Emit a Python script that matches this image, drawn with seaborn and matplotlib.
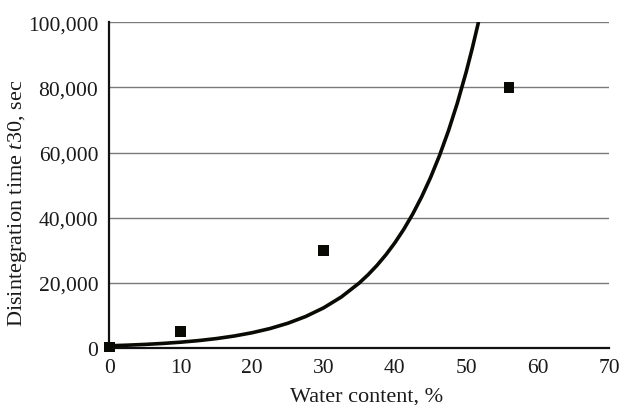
import numpy as np
import pandas as pd
import matplotlib.pyplot as plt
import seaborn as sns

# measured points
water = [0, 10, 30, 56]
t30 = [300, 5000, 30000, 80000]

# trend curve
curve_x = [0, 2.5, 5, 7.5, 10, 12.5, 15, 17.5, 20, 22.5, 25, 27.5, 30,
           32.5, 35, 36.25, 37.5, 38.75, 40, 41.25, 42.5, 43.75, 45, 46.25,
           47.5, 48.75, 50, 50.85, 51.7]
curve_y = [680, 866, 1102, 1403, 1785, 2272, 2892, 3682, 4687, 5966, 7594,
           9667, 12305, 15663, 19937, 22495, 25378, 28634, 32304, 36449,
           41120, 46395, 52342, 59057, 66626, 75175, 84808, 92070, 99900]

x_ticks = [0, 10, 20, 30, 40, 50, 60, 70]
y_ticks = [0, 20000, 40000, 60000, 80000, 100000]


def main():
    sns.set_style("white")
    plt.rcParams['font.family'] = ['Liberation Serif', 'DejaVu Serif']
    plt.rcParams['mathtext.fontset'] = 'custom'
    plt.rcParams['mathtext.it'] = 'Liberation Serif:italic'
    plt.rcParams['mathtext.rm'] = 'Liberation Serif'

    pts = pd.DataFrame({"x": water, "y": t30})
    trend = pd.DataFrame({"x": curve_x, "y": curve_y})

    fig = plt.figure(figsize=(6.32, 4.06), dpi=100)
    ax = fig.add_axes([0.173, 0.1404, 0.7906, 0.8022])

    for yv in y_ticks[1:]:
        ax.axhline(yv, color="#7a7a7a", lw=1.0, zorder=0)

    sns.lineplot(data=trend, x="x", y="y", ax=ax, color="#0a0a05", lw=2.6,
                 zorder=3)
    sns.scatterplot(data=pts, x="x", y="y", ax=ax, marker="s", s=60,
                    color="#0a0a05", edgecolor="none", zorder=4, clip_on=False)

    ax.set_xlim(0, 70)
    ax.set_ylim(0, 100000)
    ax.set_xticks(x_ticks)
    ax.set_yticks(y_ticks)
    ax.set_yticklabels([f"{v:,}" for v in y_ticks])
    ax.tick_params(axis="both", labelsize=15.5, length=4, width=1,
                   color="#8a8a8a", direction="out", pad=3,
                   labelcolor="#1a1a1a")
    ax.tick_params(axis="y", pad=4)

    for side in ["top", "right"]:
        ax.spines[side].set_visible(False)
    ax.spines["left"].set_color("#111111")
    ax.spines["bottom"].set_color("#111111")
    ax.spines["left"].set_linewidth(1.6)
    ax.spines["bottom"].set_linewidth(1.6)

    ax.set_xlabel("Water content, %", fontsize=16, color="#1a1a1a")
    ax.set_ylabel("Disintegration time $\\mathit{t}$30, sec", fontsize=16,
                  color="#1a1a1a")
    ax.xaxis.set_label_coords(0.515, -0.118)
    ax.yaxis.set_label_coords(-0.16, 0.448)

    plt.savefig("out.png", dpi=100)


if __name__ == "__main__":
    main()
